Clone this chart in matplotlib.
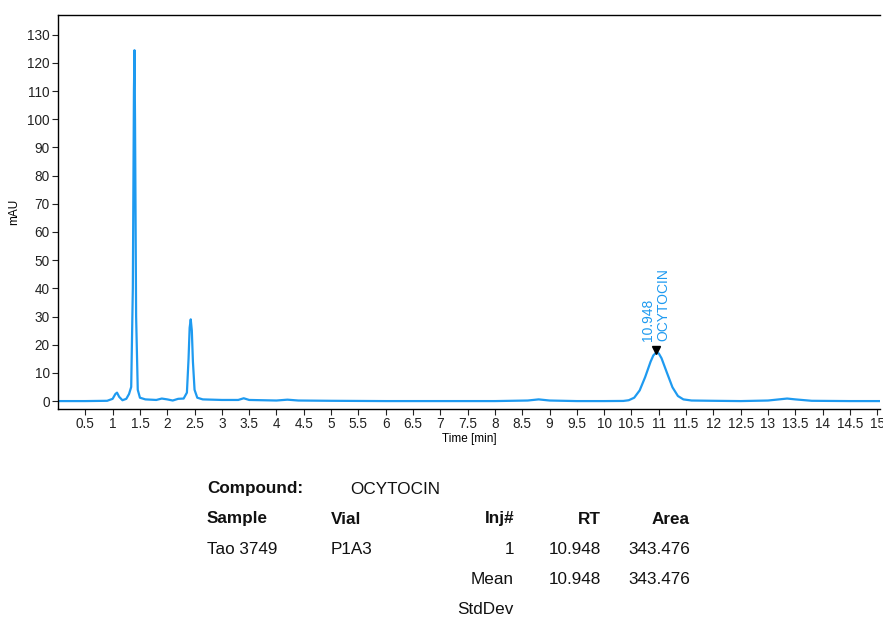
import matplotlib
matplotlib.use("Agg")
import matplotlib.pyplot as plt

plt.rcParams["font.family"] = ["Liberation Sans", "DejaVu Sans"]

# chromatogram trace (time in min, signal in mAU)
time_min = [0.0, 0.5, 0.9, 1.0, 1.05, 1.08, 1.12, 1.18, 1.25, 1.30, 1.34, 1.37, 1.39,
            1.40, 1.41, 1.43, 1.46, 1.50, 1.6, 1.8, 1.9, 2.0, 2.1, 2.2, 2.3, 2.36,
            2.39, 2.41, 2.43, 2.45, 2.47, 2.50, 2.55, 2.65, 3.0, 3.3, 3.4, 3.5, 4.0,
            4.2, 4.4, 5.0, 6.0, 7.0, 8.0, 8.6, 8.8, 9.0, 9.5, 10.0, 10.35, 10.45,
            10.55, 10.65, 10.75, 10.85, 10.9, 10.95, 11.0, 11.05, 11.15, 11.25,
            11.35, 11.45, 11.6, 12.0, 12.5, 13.0, 13.2, 13.35, 13.5, 13.8, 14.5,
            15.05]
signal_mau = [0.0, 0.0, 0.1, 0.8, 2.5, 3.0, 1.5, 0.3, 0.8, 2.5, 5.0, 40.0, 110.0,
              124.5, 100.0, 30.0, 4.0, 1.2, 0.6, 0.4, 0.9, 0.6, 0.2, 0.8, 0.9, 3.0,
              15.0, 26.0, 29.0, 25.0, 14.0, 4.0, 1.2, 0.6, 0.4, 0.4, 1.0, 0.4, 0.2,
              0.5, 0.2, 0.1, 0.0, 0.0, 0.0, 0.2, 0.6, 0.2, 0.0, 0.0, 0.05, 0.3,
              1.2, 3.8, 8.5, 14.0, 16.2, 17.2, 16.9, 15.2, 10.0, 4.9,
              1.8, 0.6, 0.2, 0.1, 0.0, 0.2, 0.6, 0.9, 0.6, 0.1, 0.0,
              0.0]

peak_rt = 10.948
peak_height = 18.3
peak_name = "OCYTOCIN"

y_ticks = list(range(0, 131, 10))
x_ticks = [i * 0.5 for i in range(1, 31)]

table_header = ["Sample", "Vial", "Inj#", "RT", "Area"]
table_row = ["Tao 3749", "P1A3", "1", "10.948", "343.476"]
mean_row = ["Mean", "10.948", "343.476"]

line_color = "#1E9AF0"

fig = plt.figure(figsize=(8.83, 6.19), dpi=100)
ax = fig.add_axes([0.0657, 0.3393, 0.9309, 0.6365])
ax.plot(time_min, signal_mau, color=line_color, linewidth=1.6)
ax.set_xlim(0, 15.05)
ax.set_ylim(-2.8, 137)
ax.set_yticks(y_ticks)
ax.set_xticks(x_ticks)
ax.set_xticklabels([f"{v:g}" for v in x_ticks])
ax.tick_params(direction="out", length=4, labelsize=9.8, colors="#222222", pad=2)
ax.set_xlabel("Time [min]", fontsize=8.5, labelpad=1)
ax.set_ylabel("mAU", fontsize=8.5, labelpad=5)
ax.spines["right"].set_visible(False)
for s in ["left", "bottom", "top"]:
    ax.spines[s].set_linewidth(1.0)

ax.plot([peak_rt], [peak_height], marker="v", color="black", markersize=6)
ax.text(peak_rt - 0.15, peak_height + 3.0, f"{peak_rt:.3f}", rotation=90,
        ha="center", va="bottom", color=line_color, fontsize=10)
ax.text(peak_rt + 0.13, peak_height + 3.0, peak_name, rotation=90,
        ha="center", va="bottom", color=line_color, fontsize=10)

W, H = 883, 619


def put(x, y, s, ha="left", bold=False):
    fig.text(x / W, 1 - y / H, s, ha=ha, va="center", fontsize=12.3,
             fontweight="bold" if bold else "normal", color="#111111")


put(207, 489, "Compound:", bold=True)
put(350, 489, peak_name)
col_x = [207, 331, 514, 601, 690]
col_ha = ["left", "left", "right", "right", "right"]
for x, ha, s in zip(col_x, col_ha, table_header):
    put(x, 519, s, ha=ha, bold=True)
for x, ha, s in zip(col_x, col_ha, table_row):
    put(x, 550, s, ha=ha)
for x, s in zip(col_x[2:], mean_row):
    put(x, 580, s, ha="right")
put(514, 610, "StdDev", ha="right")

fig.savefig("out.png", dpi=100)
